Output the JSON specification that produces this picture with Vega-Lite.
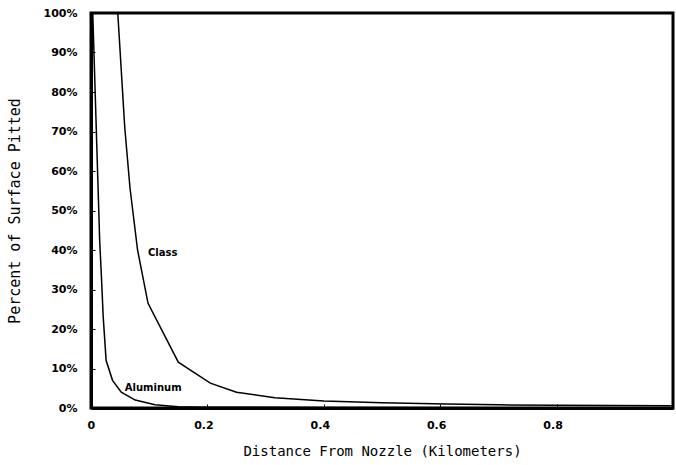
{
  "$schema": "https://vega.github.io/schema/vega-lite/v6.json",
  "width": 582,
  "height": 395,
  "autosize": "none",
  "padding": {"left": 91, "top": 13, "right": 3, "bottom": 57},
  "background": "white",
  "config": {
    "view": {"stroke": "black", "strokeWidth": 3},
    "font": "DejaVu Sans"
  },
  "datasets": {
    "curves": [
      {"material": "Glass", "distance": 0.046, "pitted": 100},
      {"material": "Glass", "distance": 0.058, "pitted": 71},
      {"material": "Glass", "distance": 0.067, "pitted": 55.7},
      {"material": "Glass", "distance": 0.08, "pitted": 40},
      {"material": "Glass", "distance": 0.098, "pitted": 26.5},
      {"material": "Glass", "distance": 0.15, "pitted": 11.6},
      {"material": "Glass", "distance": 0.205, "pitted": 6.3},
      {"material": "Glass", "distance": 0.25, "pitted": 4.0},
      {"material": "Glass", "distance": 0.316, "pitted": 2.6},
      {"material": "Glass", "distance": 0.4, "pitted": 1.8},
      {"material": "Glass", "distance": 0.5, "pitted": 1.3},
      {"material": "Glass", "distance": 0.61, "pitted": 1.0},
      {"material": "Glass", "distance": 0.7, "pitted": 0.8},
      {"material": "Glass", "distance": 0.8, "pitted": 0.7},
      {"material": "Glass", "distance": 1.0, "pitted": 0.6},
      {"material": "Aluminum", "distance": 0.003, "pitted": 100},
      {"material": "Aluminum", "distance": 0.015, "pitted": 42},
      {"material": "Aluminum", "distance": 0.018, "pitted": 33},
      {"material": "Aluminum", "distance": 0.021, "pitted": 23},
      {"material": "Aluminum", "distance": 0.026, "pitted": 12},
      {"material": "Aluminum", "distance": 0.037, "pitted": 7},
      {"material": "Aluminum", "distance": 0.052, "pitted": 4},
      {"material": "Aluminum", "distance": 0.076, "pitted": 2},
      {"material": "Aluminum", "distance": 0.11, "pitted": 0.8},
      {"material": "Aluminum", "distance": 0.15, "pitted": 0.3},
      {"material": "Aluminum", "distance": 0.2, "pitted": 0.2},
      {"material": "Aluminum", "distance": 0.4, "pitted": 0.1},
      {"material": "Aluminum", "distance": 1.0, "pitted": 0.05}
    ],
    "labels": [
      {"text": "Class", "distance": 0.098, "pitted": 39.2},
      {"text": "Aluminum", "distance": 0.058, "pitted": 5.0}
    ]
  },
  "encoding": {
    "x": {
      "field": "distance",
      "type": "quantitative",
      "scale": {"domain": [0, 1], "nice": false},
      "axis": {
        "title": "Distance From Nozzle (Kilometers)",
        "titleFont": "DejaVu Sans Mono",
        "titleFontSize": 14,
        "titleFontWeight": "normal",
        "titleColor": "black",
        "titlePadding": 14,
        "values": [0, 0.2, 0.4, 0.6, 0.8],
        "labelExpr": "datum.value == 0 ? '0' : format(datum.value, '.1f')",
        "labelFont": "DejaVu Sans",
        "labelFontSize": 11,
        "labelFontWeight": "bold",
        "labelColor": "black",
        "labelPadding": 15,
        "labelOffset": -4,
        "labelOverlap": false,
        "tickSize": -4,
        "tickColor": "black",
        "domainColor": "black",
        "domainWidth": 3,
        "grid": false
      }
    },
    "y": {
      "field": "pitted",
      "type": "quantitative",
      "scale": {"domain": [0, 100], "nice": false},
      "axis": {
        "title": "Percent of Surface Pitted",
        "titleFont": "DejaVu Sans Mono",
        "titleFontSize": 15,
        "titleFontWeight": "normal",
        "titleColor": "black",
        "titlePadding": 21,
        "values": [0, 10, 20, 30, 40, 50, 60, 70, 80, 90, 100],
        "labelExpr": "datum.value + '%'",
        "labelFont": "DejaVu Sans",
        "labelFontSize": 11,
        "labelFontWeight": "bold",
        "labelColor": "black",
        "labelPadding": 18,
        "labelOverlap": false,
        "tickSize": -4,
        "tickColor": "black",
        "domainColor": "black",
        "domainWidth": 3,
        "grid": false
      }
    }
  },
  "layer": [
    {
      "data": {"name": "curves"},
      "mark": {"type": "line", "strokeWidth": 1.5, "clip": true, "color": "black"},
      "encoding": {
        "detail": {"field": "material"}
      }
    },
    {
      "data": {"name": "labels"},
      "mark": {"type": "text", "align": "left", "baseline": "middle", "fontSize": 10, "fontWeight": "bold", "font": "DejaVu Sans", "color": "black"},
      "encoding": {
        "text": {"field": "text"}
      }
    }
  ]
}
